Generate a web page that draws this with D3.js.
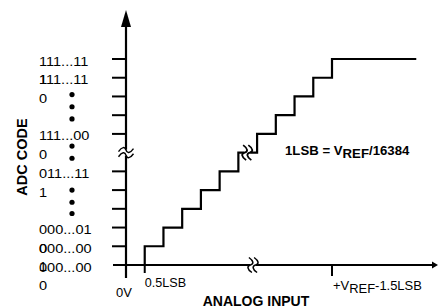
<!DOCTYPE html>
<html>
<head>
<meta charset="utf-8">
<script src="https://cdn.jsdelivr.net/npm/d3@7"></script>
<style>
  body { margin: 0; background: #fff; }
  text { font-family: "Liberation Sans", Arial, sans-serif; fill: #000; }
</style>
</head>
<body>
<div id="container"></div>
<script>
const width = 439, height = 308;

// ADC codes shown on the left, and the step level each one sits at
const codeLabels = ["000...000", "000...001", "000...010", "011...111", "111...000", "111...110", "111...111"];
const codeLevels = [0, 1, 2, 5, 7, 10, 11];
const tickLevels = [1, 2, 3, 4, 5, 7, 8, 9, 10, 11];
const dotLevels = [9.1, 8.45, 7.8, 6.35, 5.7, 4.0, 3.35, 2.75];
const stepCount = 11;
const breakStep = 6;
const xTickLabels = ["0.5LSB", "+VREF-1.5LSB"];
const xTickSteps = [1, 11];

const x = d3.scaleLinear().domain([0, 11]).range([126, 332]);
const y = d3.scaleLinear().domain([0, 11]).range([265, 59]);

const svg = d3.select('#container').append('svg')
  .attr('width', width).attr('height', height);

// staircase
let pts = [[x(0), y(0)]];
for (let i = 0; i < stepCount; i++) {
  pts.push([x(i + 1), y(i)]);
  pts.push([x(i + 1), y(i + 1)]);
}
pts.push([x(15.5), y(stepCount)]);
svg.append('path')
  .attr('d', d3.line()(pts))
  .attr('fill', 'none').attr('stroke', '#000').attr('stroke-width', 2.2);

// axes
svg.append('line')
  .attr('x1', x(0)).attr('x2', x(0)).attr('y1', 278).attr('y2', 24)
  .attr('stroke', '#000').attr('stroke-width', 2.2);
svg.append('path')
  .attr('d', `M${x(0)},10 L${x(0) - 5},27 L${x(0) + 5},27 Z`).attr('fill', '#000');
svg.append('line')
  .attr('x1', 113).attr('x2', 433).attr('y1', y(0)).attr('y2', y(0))
  .attr('stroke', '#000').attr('stroke-width', 2.2);
svg.append('path')
  .attr('d', `M438,${y(0)} L432,${y(0) - 3.5} L432,${y(0) + 3.5} Z`).attr('fill', '#000');

svg.selectAll('.ytick').data(tickLevels).enter().append('line')
  .attr('x1', 112).attr('x2', x(0))
  .attr('y1', d => y(d)).attr('y2', d => y(d))
  .attr('stroke', '#000').attr('stroke-width', 2);

svg.selectAll('.xtick').data(xTickSteps).enter().append('line')
  .attr('x1', d => x(d)).attr('x2', d => x(d))
  .attr('y1', y(0)).attr('y2', (d, i) => i ? 276 : 273)
  .attr('stroke', '#000').attr('stroke-width', 2);

// break marks
function squiggle(cx, cy, vertical, sw) {
  const g = svg.append('g').attr('transform', `translate(${cx},${cy})` + (vertical ? ' rotate(90)' : ''));
  g.append('rect').attr('x', -7).attr('y', -3).attr('width', 14).attr('height', 6).attr('fill', '#fff');
  [-2.6, 2.6].forEach(o => {
    g.append('path')
      .attr('d', `M-7.5,${o + 1.5} C-4,${o - 3.5} -1,${o - 3.5} 0,${o} S4,${o + 3.5} 7.5,${o - 1.5}`)
      .attr('fill', 'none').attr('stroke', '#000').attr('stroke-width', sw);
  });
}
squiggle(x(0), y(breakStep), false, 1.4);
squiggle((x(breakStep) + x(breakStep + 1)) / 2 - 0.5, y(breakStep), true, 1.8);
squiggle(253, y(0), true, 1.5);

// code labels
codeLabels.forEach((lab, i) => {
  const yy = y(codeLevels[i]) + 6.5;
  [lab.slice(0, 8), lab.slice(8)].forEach((part, j) => {
    svg.append('text')
      .attr('transform', `translate(39,${yy + j * 18.7}) scale(1.12,1)`)
      .style('font-size', '13px')
      .text(part);
  });
});

svg.selectAll('.dot').data(dotLevels).enter().append('circle')
  .attr('cx', 72).attr('cy', d => y(d)).attr('r', 2.6).attr('fill', '#000');

// x labels
svg.append('text').attr('x', 124).attr('y', 297).attr('text-anchor', 'middle')
  .style('font-size', '13px').text('0V');
svg.append('text').attr('transform', `translate(${x(xTickSteps[0])},287) scale(1.05,1)`)
  .style('font-size', '12px').text(xTickLabels[0]);

const vt = svg.append('text').attr('transform', `translate(${x(xTickSteps[1]) + 1},290) scale(1.08,1)`)
  .style('font-size', '12px');
vt.append('tspan').text('+V');
vt.append('tspan').attr('dy', 3).text('REF');
vt.append('tspan').attr('dy', -3).text('-1.5LSB');

// annotation
const an = svg.append('text').attr('transform', 'translate(285,155) scale(1.1,1)')
  .style('font-size', '12px').style('font-weight', 'bold');
an.append('tspan').text('1LSB = V');
an.append('tspan').attr('dy', 3).text('REF');
an.append('tspan').attr('dy', -3).text('/16384');

// axis titles
svg.append('text').attr('x', 256).attr('y', 306).attr('text-anchor', 'middle')
  .style('font-size', '14px').style('font-weight', 'bold').text('ANALOG INPUT');
svg.append('text').attr('transform', 'translate(27,157) rotate(-90)').attr('text-anchor', 'middle')
  .style('font-size', '14.5px').style('font-weight', 'bold').text('ADC CODE');
</script>
</body>
</html>
